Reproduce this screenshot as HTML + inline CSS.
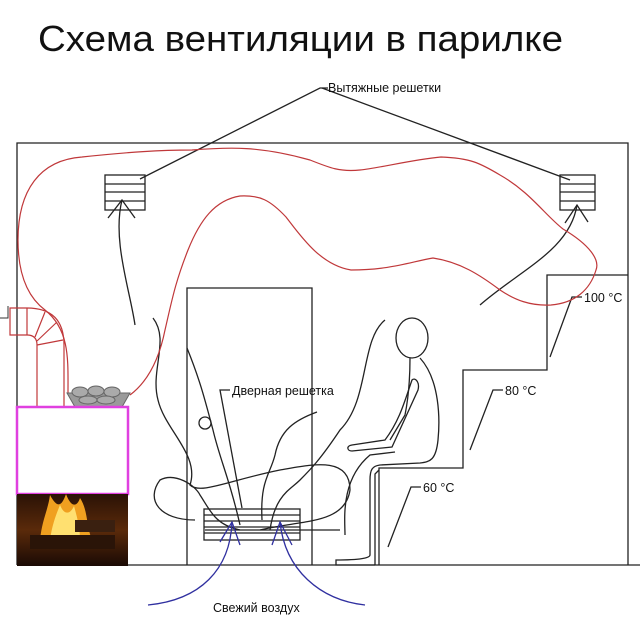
<!DOCTYPE html>
<html><head><meta charset="utf-8"><style>
html,body{margin:0;padding:0;background:#fff;}
svg{display:block;font-family:"Liberation Sans",Arial,sans-serif;}
</style></head><body>
<svg width="640" height="621" viewBox="0 0 640 621" xmlns="http://www.w3.org/2000/svg">
<defs>
<linearGradient id="fire" x1="0" y1="0" x2="0" y2="1">
<stop offset="0" stop-color="#2a1206"/><stop offset="0.5" stop-color="#5a2a0a"/><stop offset="1" stop-color="#1a0a04"/>
</linearGradient>
</defs>
<text x="38" y="51" font-size="36" textLength="525" lengthAdjust="spacingAndGlyphs" fill="#111">Схема вентиляции в парилке</text>

<g fill="none" stroke="#222" stroke-width="1.3">
<polyline points="17,565 17,143 628,143 628,565"/>
<line x1="17" y1="565" x2="640" y2="565"/>
<polyline points="187,565 187,288 312,288 312,565"/>
<circle cx="205" cy="423" r="6"/>
<polyline points="628,275 547,275 547,370 463,370 463,468 379,468 379,565"/>
<polyline points="375,565 375,474 379,470"/>
<rect x="105" y="175" width="40" height="35"/>
<line x1="105" y1="184" x2="145" y2="184"/><line x1="105" y1="192" x2="145" y2="192"/><line x1="105" y1="201" x2="145" y2="201"/>
<rect x="560" y="175" width="35" height="35"/>
<line x1="560" y1="184" x2="595" y2="184"/><line x1="560" y1="192" x2="595" y2="192"/><line x1="560" y1="201" x2="595" y2="201"/>
<rect x="204" y="509" width="96" height="31"/>
<line x1="204" y1="515" x2="300" y2="515"/><line x1="204" y1="521" x2="300" y2="521"/><line x1="204" y1="527" x2="300" y2="527"/><line x1="204" y1="533" x2="300" y2="533"/>
<polyline points="140,179 320,88 328,88"/>
<line x1="322" y1="88" x2="570" y2="180"/>
<polyline points="230,390 220,390 242,508"/>
<polyline points="582,297 572,297 550,357"/>
<polyline points="503,390 493,390 470,450"/>
<polyline points="421,487 411,487 388,547"/>
<path d="M135,325 C130,290 112,240 122,200"/>
<polyline points="108,218 122,200 135,218"/>
<path d="M480,305 C520,270 570,250 577,205"/>
<polyline points="565,223 577,205 588,222"/>
<ellipse cx="412" cy="338" rx="16" ry="20"/>
<path d="M410,358 C410,380 408,400 405,415 L390,440 M420,358 C440,380 440,420 438,440 C436,460 430,462 420,463 L380,465 C372,466 370,470 370,480 L370,555 C370,558 360,560 336,560 L336,565 L375,565"/>
<path d="M412,380 C405,400 400,420 385,440 L352,445 C346,446 347,451 352,451 L392,447 L418,390 C420,382 415,377 412,380 Z"/>
<path d="M345,535 C345,520 340,480 370,455 L395,452"/>
<path d="M153,318 C170,340 150,370 158,400 C165,430 200,455 190,485 C200,495 230,480 280,470 C310,465 350,455 350,490 C345,525 300,520 260,530"/>
<path d="M187,348 C200,380 205,400 213,430 C220,460 230,480 240,525"/>
<path d="M385,320 C360,340 370,400 340,430 C320,460 310,470 300,480 C290,490 275,495 270,530"/>
<path d="M317,412 C295,420 280,430 275,455 C270,475 260,480 262,520"/>
<path d="M195,520 C160,520 145,500 160,480 C175,472 195,485 200,495 C210,510 215,525 240,530"/>
<path d="M340,530 C320,530 260,530 205,530"/>
</g>

<g fill="none" stroke="#c0383a" stroke-width="1.2">
<path d="M68,393 C68,360 70,330 45,310 C25,295 18,270 18,240 C18,190 40,160 82,157 C130,152 160,150 192,150 C230,147 260,146 310,160 C330,168 340,172 360,170 C380,168 410,160 441,157 C470,158 480,163 500,175 C530,192 545,215 563,229 C590,245 600,260 596,270 C590,290 575,303 551,305 C530,306 515,300 500,290 C480,275 460,262 433,258 C410,262 390,270 351,270 C320,265 300,235 286,217 C270,200 260,195 240,196 C215,200 200,220 188,250 C175,283 172,300 165,330 C160,355 150,380 130,395"/>
<path d="M37,407 L37,345 Q37,335 27,335 L10,335 L10,308 L27,308 Q64,308 64,345 L64,407"/>
<path d="M27,308 L27,335 M45,312 L35,337 M57,322 L37,341 M63,340 L37,345"/>
</g>
<polyline points="0,318 8,318 8,306 M0,333 8,333 8,345 10,345" fill="none" stroke="#333" stroke-width="1"/>

<path d="M67,393 L130,393 L122,407 L75,407 Z" fill="#9a9a9a" stroke="#666"/>
<ellipse cx="80" cy="392" rx="8" ry="5" fill="#aaa" stroke="#666"/>
<ellipse cx="96" cy="391" rx="8" ry="5" fill="#aaa" stroke="#666"/>
<ellipse cx="112" cy="392" rx="8" ry="5" fill="#aaa" stroke="#666"/>
<ellipse cx="88" cy="400" rx="9" ry="4" fill="#aaa" stroke="#666"/>
<ellipse cx="106" cy="400" rx="9" ry="4" fill="#aaa" stroke="#666"/>

<rect x="17" y="407" width="111" height="87" fill="#fff" stroke="#e040e0" stroke-width="2.5"/>
<rect x="17" y="494" width="111" height="72" fill="url(#fire)"/>
<path d="M40,540 C42,520 48,510 50,495 C58,510 62,505 66,494 C72,510 78,505 80,498 C88,510 86,525 92,540 Z" fill="#f0a020"/>
<path d="M50,540 C52,525 56,515 60,505 C64,515 70,515 74,506 C78,520 80,530 80,540 Z" fill="#ffe070"/>
<rect x="30" y="535" width="85" height="14" fill="#2a1408"/>
<rect x="75" y="520" width="40" height="12" fill="#3a2010"/>

<g fill="none" stroke="#3030a0" stroke-width="1.3">
<path d="M148,605 C200,600 230,570 232,522"/>
<polyline points="220,542 232,522 240,545"/>
<path d="M365,605 C320,600 285,570 280,522"/>
<polyline points="272,545 280,522 292,545"/>
</g>

<g font-size="12.5" fill="#111">
<text x="328" y="92">Вытяжные решетки</text>
<text x="232" y="395">Дверная решетка</text>
<text x="584" y="302">100 °C</text>
<text x="505" y="395">80 °C</text>
<text x="423" y="492">60 °C</text>
<text x="213" y="612">Свежий воздух</text>
</g>
</svg>
</body></html>
